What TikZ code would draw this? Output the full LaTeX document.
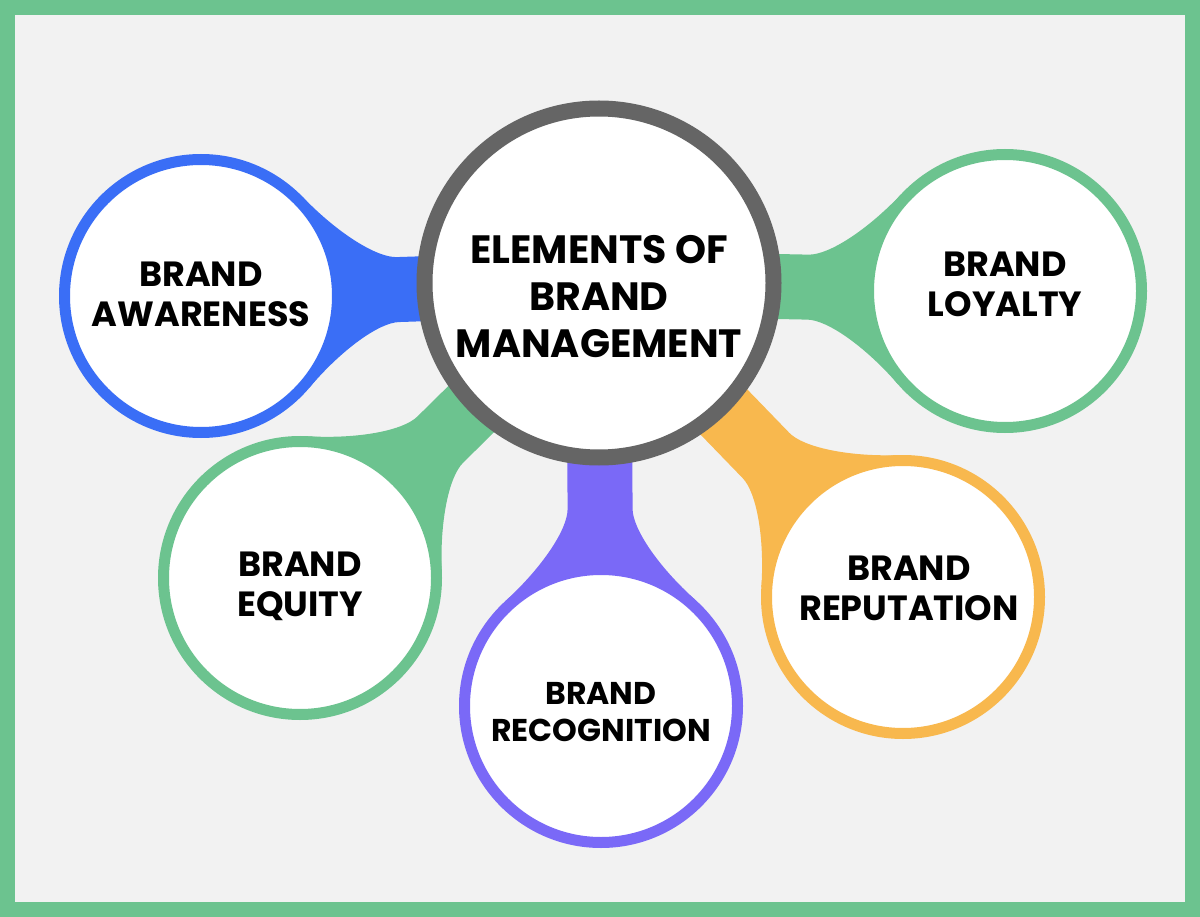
\documentclass[tikz,border=0pt]{standalone}
\usepackage{fontspec}
\setmainfont{Poppins}
\usepackage{tikz}
\usetikzlibrary{calc}
\definecolor{BrandBg}{HTML}{F2F2F2}
\definecolor{BrandGreen}{HTML}{6CC38F}
\definecolor{BrandBlue}{HTML}{3A6EF6}
\definecolor{BrandPurple}{HTML}{7A69F7}
\definecolor{BrandOrange}{HTML}{F8B84E}
\definecolor{BrandGray}{HTML}{656565}
\pgfdeclarelayer{bg}
\pgfsetlayers{bg,main}

% neck between the hub and one petal: colour, petal node
\newcommand{\neck}[2]{%
  \fill[#1]
    ($(hub)!150pt!(#2)!32.5pt!-90:(hub)$)
    -- ($(#2)!197pt!(hub)!32.5pt!90:(#2)$)
    .. controls ($(#2)!177pt!(hub)!32.5pt!90:(#2)$)
            and ($(#2)!139pt!(hub)!58pt!90:(#2)$)
    .. ($(#2)!105.5pt!(hub)!95pt!90:(#2)$)
    -- (#2.center)
    -- ($(#2)!105.5pt!(hub)!95pt!-90:(#2)$)
    .. controls ($(#2)!139pt!(hub)!58pt!-90:(#2)$)
            and ($(#2)!177pt!(hub)!32.5pt!-90:(#2)$)
    .. ($(#2)!197pt!(hub)!32.5pt!-90:(#2)$)
    -- ($(hub)!150pt!(#2)!32.5pt!90:(hub)$)
    -- cycle;}

\begin{document}
\begin{tikzpicture}[
  x=1pt,y=-1pt,
  petal/.style={
    circle,fill=white,line width=11pt,minimum size=273pt,inner sep=0pt
  },
  petaltext/.style={align=center,font=\fontsize{35}{40}\selectfont\bfseries},
  hub/.style={
    circle,fill=white,draw=BrandGray,line width=16pt,minimum size=349pt,
    inner sep=0pt
  },
  hubtext/.style={align=center,font=\fontsize{39.5}{47}\selectfont\bfseries}
]
  \useasboundingbox (0,0) rectangle (1200,917);

  \node[hub,label={[hubtext,yshift=-14pt]center:ELEMENTS OF\\BRAND\\MANAGEMENT}] (hub) at (599,283) {};

  \node[petal,draw=BrandBlue,
    label={[petaltext,yshift=2pt]center:BRAND\\AWARENESS}] (aware) at (201,296) {};
  \node[petal,draw=BrandGreen,
    label={[petaltext,yshift=7pt]center:BRAND\\LOYALTY}] (loyal) at (1005,291) {};
  \node[petal,draw=BrandGreen,
    label={[petaltext,yshift=-8pt]center:BRAND\\EQUITY}] (equity) at (300,578) {};
  \node[petal,draw=BrandPurple,
    label={[petaltext,yshift=-6pt,font=\fontsize{31.5}{37}\selectfont\bfseries]center:BRAND\\RECOGNITION}] (recog) at (601,706) {};
  \node[petal,draw=BrandOrange,
    label={[petaltext,yshift=9pt,xshift=6pt]center:BRAND\\REPUTATION}] (reput) at (903,597) {};

  \begin{pgfonlayer}{bg}
    \fill[BrandGreen] (0,0) rectangle (1200,917);
    \fill[BrandBg] (15,15) rectangle (1185,902);
    \neck{BrandBlue}{aware}
    \neck{BrandGreen}{loyal}
    \neck{BrandGreen}{equity}
    \neck{BrandPurple}{recog}
    \neck{BrandOrange}{reput}
  \end{pgfonlayer}
\end{tikzpicture}
\end{document}
